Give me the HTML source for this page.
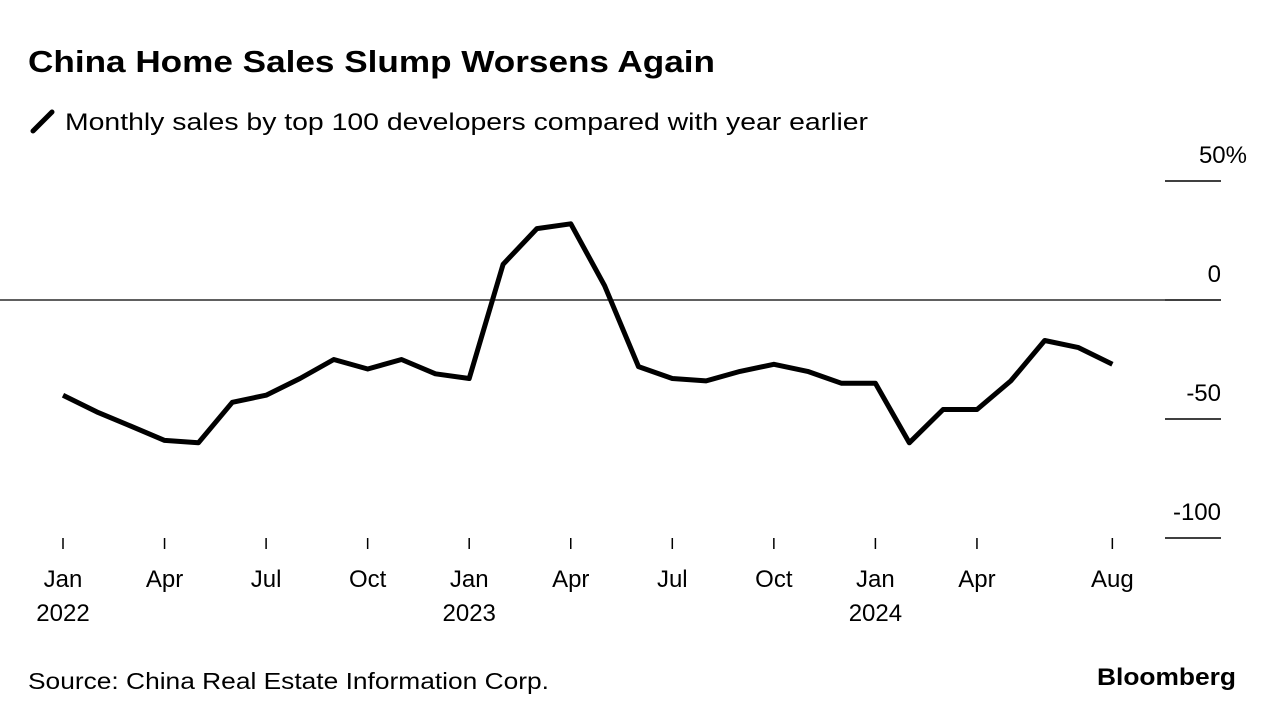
<!DOCTYPE html>
<html><head><meta charset="utf-8"><style>
body{margin:0;background:#fff;width:1274px;height:720px;overflow:hidden;font-family:"Liberation Sans",sans-serif;}
svg text{font-family:"Liberation Sans",sans-serif;fill:#000;}
</style></head><body>
<svg width="1274" height="720">
<text x="28" y="72" font-size="31" font-weight="bold" textLength="687" lengthAdjust="spacingAndGlyphs">China Home Sales Slump Worsens Again</text>
<line x1="33" y1="131" x2="52" y2="112" stroke="#000" stroke-width="5" stroke-linecap="round"/>
<text x="65" y="130" font-size="24" textLength="803" lengthAdjust="spacingAndGlyphs">Monthly sales by top 100 developers compared with year earlier</text>
<g id="yaxis"></g>
<g id="xaxis"></g>
<line x1="0" y1="300" x2="1165" y2="300" stroke="#000" stroke-width="1.3"/>
<path id="line" fill="none" stroke="#000" stroke-width="5" stroke-linejoin="round"/>
<text x="28" y="689" font-size="23" textLength="521" lengthAdjust="spacingAndGlyphs">Source: China Real Estate Information Corp.</text>
<text x="1097" y="685" font-size="24" font-weight="bold" textLength="139" lengthAdjust="spacingAndGlyphs">Bloomberg</text>
</svg>
<script>
const values=[-40,-47,-53,-59,-60,-43,-40,-33,-25,-29,-25,-31,-33,15,30,32,6,-28,-33,-34,-30,-27,-30,-35,-35,-60,-46,-46,-34,-17,-20,-27];
const yTicks=[50,0,-50,-100];
const yTickLabels=["50%","0","-50","-100"];
const xTickMonths=[0,3,6,9,12,15,18,21,24,27,31];
const xTickLabels=["Jan","Apr","Jul","Oct","Jan","Apr","Jul","Oct","Jan","Apr","Aug"];
const xYearLabels=["2022","","","","2023","","","","2024","",""];
const NS="http://www.w3.org/2000/svg";
const x=m=>63+m*33.85;
const y=v=>300-v*2.38;
const ya=document.getElementById('yaxis'),xa=document.getElementById('xaxis');
yTicks.forEach((t,i)=>{
 const l=document.createElementNS(NS,'line');
 l.setAttribute('x1',1165);l.setAttribute('x2',1221);l.setAttribute('y1',y(t));l.setAttribute('y2',y(t));
 l.setAttribute('stroke','#000');l.setAttribute('stroke-width',1.5);
 
 
 ya.appendChild(l);
 const tx=document.createElementNS(NS,'text');
 const lab=yTickLabels[i];
 tx.setAttribute('x',lab.endsWith('%')?1247:1221);tx.setAttribute('y',y(t)-18);tx.setAttribute('font-size',24);tx.setAttribute('text-anchor','end');
 tx.textContent=lab;
 
 
 ya.appendChild(tx);
});
xTickMonths.forEach((m,i)=>{
 const l=document.createElementNS(NS,'line');
 l.setAttribute('x1',x(m));l.setAttribute('x2',x(m));l.setAttribute('y1',538);l.setAttribute('y2',549);
 l.setAttribute('stroke','#000');l.setAttribute('stroke-width',1.5);
 
 
 xa.appendChild(l);
 const tx=document.createElementNS(NS,'text');
 tx.setAttribute('x',x(m));tx.setAttribute('y',587);tx.setAttribute('font-size',24);tx.setAttribute('text-anchor','middle');
 tx.textContent=xTickLabels[i];
 
 
 xa.appendChild(tx);
 if(xYearLabels[i]){
  const ty=document.createElementNS(NS,'text');
  ty.setAttribute('x',x(m));ty.setAttribute('y',621);ty.setAttribute('font-size',24);ty.setAttribute('text-anchor','middle');
  ty.textContent=xYearLabels[i];
  
  
  xa.appendChild(ty);
 }
});
document.getElementById('line').setAttribute('d',values.map((v,i)=>(i?'L':'M')+x(i).toFixed(1)+','+y(v).toFixed(1)).join(''));
</script>
</body></html>
